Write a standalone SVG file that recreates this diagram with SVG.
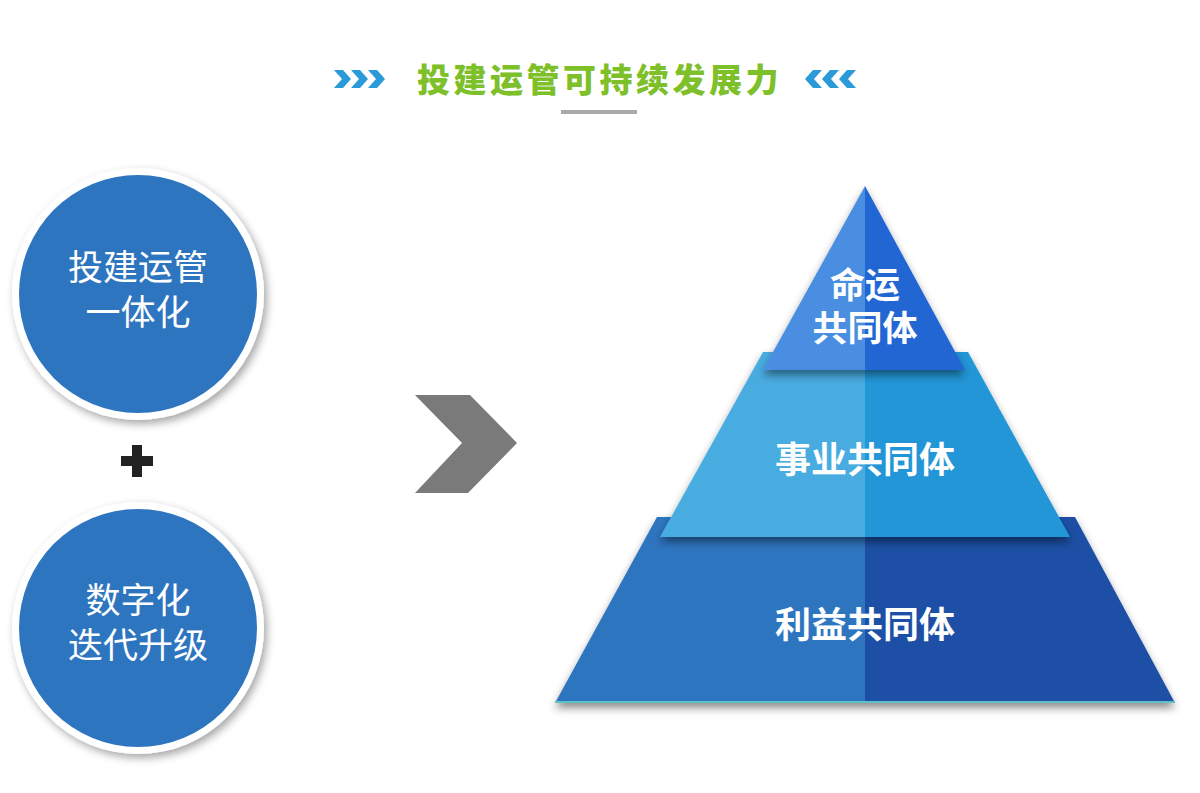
<svg xmlns="http://www.w3.org/2000/svg" width="1200" height="793" viewBox="0 0 1200 793">
<defs>
<style>
.title{font-family:"Noto Sans CJK SC","Noto Sans",sans-serif;font-weight:900;font-size:33px;fill:#7dc02a;letter-spacing:3.5px}
.ctext{font-family:"Noto Sans CJK SC","Noto Sans",sans-serif;font-weight:normal;font-size:35px;fill:#ffffff;text-anchor:middle}
.ptext{font-family:"Noto Sans CJK SC","Noto Sans",sans-serif;font-weight:bold;font-size:36px;fill:#ffffff;text-anchor:middle}
.ptop{font-size:35px}
.chev{fill:#2a9ad8}
</style>
<filter id="cshadow" x="-20%" y="-20%" width="140%" height="140%">
<feDropShadow dx="3" dy="4" stdDeviation="4" flood-color="#000" flood-opacity="0.35"/>
</filter>
<filter id="pshadow" x="-10%" y="-10%" width="120%" height="130%">
<feDropShadow dx="0" dy="5" stdDeviation="4" flood-color="#000" flood-opacity="0.45"/>
</filter>
</defs>
<rect width="1200" height="793" fill="#ffffff"/>

<g id="title">
<g id="chev-left">
<polygon class="chev" points="334,70 343,70 351,79 343,88 334,88 342,79"/>
<polygon class="chev" points="351,70 360,70 368,79 360,88 351,88 359,79"/>
<polygon class="chev" points="368,70 377,70 385,79 377,88 368,88 376,79"/>
</g>
<text class="title" x="417" y="92">投建运管可持续发展力</text>
<g id="chev-right">
<polygon class="chev" points="822,70 813,70 805,79 813,88 822,88 814,79"/>
<polygon class="chev" points="839,70 830,70 822,79 830,88 839,88 831,79"/>
<polygon class="chev" points="856,70 847,70 839,79 847,88 856,88 848,79"/>
</g>
<rect x="561" y="110" width="76" height="4" fill="#aaaaaa"/>
</g>

<g id="circle1">
<circle cx="138" cy="294" r="126" fill="#ffffff" filter="url(#cshadow)"/>
<circle cx="138" cy="294" r="119" fill="#2e75c0"/>
<text class="ctext" x="138" y="280">投建运管</text>
<text class="ctext" x="138" y="325">一体化</text>
</g>

<g id="plus">
<rect x="121" y="456" width="32" height="10" fill="#222222"/>
<rect x="132" y="445" width="10" height="32" fill="#222222"/>
</g>

<g id="circle2">
<circle cx="138" cy="628" r="126" fill="#ffffff" filter="url(#cshadow)"/>
<circle cx="138" cy="628" r="119" fill="#2e75c0"/>
<text class="ctext" x="138" y="613">数字化</text>
<text class="ctext" x="138" y="658">迭代升级</text>
</g>

<g id="connectors">
<polygon points="415,395 470,395 517,443 468,493 415,493 462,443" fill="#7a7a7a"/>
</g>

<g id="layer-bottom">
<g filter="url(#pshadow)">
<polygon points="657,517 865,517 865,703 555,703" fill="#2e75c0"/>
<polygon points="865,517 1075,517 1175,703 865,703" fill="#1a4fa5"/>
</g>
<line x1="555" y1="702" x2="1175" y2="702" stroke="#5fc0c8" stroke-width="2"/>
<text class="ptext" x="865" y="638">利益共同体</text>
</g>

<g id="layer-middle">
<g filter="url(#pshadow)">
<polygon points="763,352 865,352 865,537 660,537" fill="#4aace0"/>
<polygon points="865,352 968,352 1070,537 865,537" fill="#2196d6"/>
</g>
<text class="ptext" x="865" y="473">事业共同体</text>
</g>

<g id="layer-top">
<g filter="url(#pshadow)">
<polygon points="865,186 865,370 763,370" fill="#4a8ee0"/>
<polygon points="865,186 965,370 865,370" fill="#2166d4"/>
</g>
<text class="ptext ptop" x="865" y="298">命运</text>
<text class="ptext ptop" x="865" y="341">共同体</text>
</g>
</svg>
